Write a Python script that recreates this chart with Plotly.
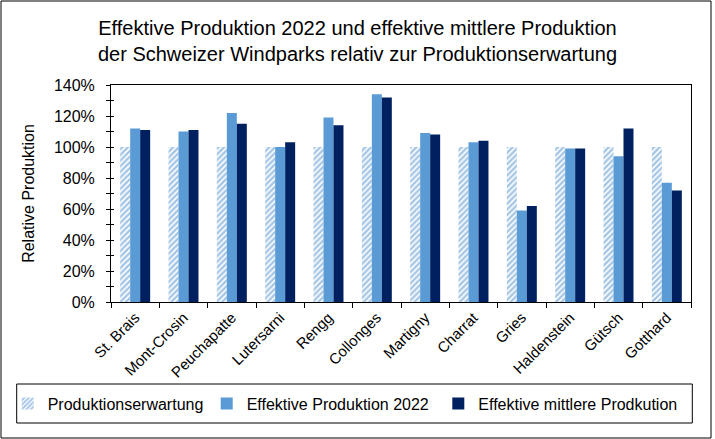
import plotly.graph_objects as go

parks = ["St. Brais", "Mont-Crosin", "Peuchapatte", "Lutersarni", "Rengg", "Collonges",
         "Martigny", "Charrat", "Gries", "Haldenstein", "Gütsch", "Gotthard"]
erwartung = [100, 100, 100, 100, 100, 100, 100, 100, 100, 100, 100, 100]
prod_2022 = [112, 110, 122, 100, 119, 134, 109, 103, 59, 99, 94, 77]
prod_mittel = [111, 111, 115, 103, 114, 132, 108, 104, 62, 99, 112, 72]
y_ticks = [0, 20, 40, 60, 80, 100, 120, 140]
y_labels = ["0%", "20%", "40%", "60%", "80%", "100%", "120%", "140%"]

FONT = "Liberation Sans, Arial, sans-serif"
L, R, T, B = 111, 24, 85, 137
W, H = 715, 439
PW, PH = W - L - R, H - T - B

def px_x(p):
    return (p - L) / PW

def px_y(p):
    return (H - B - p) / PH

fig = go.Figure()
fig.add_trace(go.Bar(
    x=parks, y=erwartung, name="Produktionserwartung",
    marker=dict(color="white", line=dict(width=0),
                pattern=dict(shape="/", fgcolor="#4A8CCB", bgcolor="white", size=4, solidity=0.6)),
    legend="legend"))
fig.add_trace(go.Bar(
    x=parks, y=prod_2022, name="Effektive Produktion 2022",
    marker=dict(color="#5B9BD5", line=dict(width=0)), legend="legend2"))
fig.add_trace(go.Bar(
    x=parks, y=prod_mittel, name="Effektive mittlere Prodkution",
    marker=dict(color="#002060", line=dict(width=0)), legend="legend3"))
# invisible helper trace for the inner-tick overlay axis
fig.add_trace(go.Scatter(x=[parks[0]], y=[0], yaxis="y2", mode="markers",
                         marker=dict(opacity=0), showlegend=False, hoverinfo="skip"))

legend_common = dict(orientation="h", bgcolor="rgba(0,0,0,0)", borderwidth=0,
                     font=dict(family=FONT, size=16, color="black"),
                     yanchor="middle", xanchor="left", y=px_y(403.5))

fig.update_layout(
    width=W, height=H,
    margin=dict(l=L, r=R, t=T, b=B, autoexpand=False),
    paper_bgcolor="white", plot_bgcolor="white",
    font=dict(family=FONT, color="black"),
    barmode="group", bargap=0.38, bargroupgap=0,
    title=dict(text="Effektive Produktion 2022 und effektive mittlere Produktion<br>"
                    "der Schweizer Windparks relativ zur Produktionserwartung",
               x=0.5, xref="container", xanchor="center",
               y=1 - 35 / H, yref="container", yanchor="middle",
               font=dict(family=FONT, size=20, color="black")),
    xaxis=dict(range=[-0.5, len(parks) - 0.5],
               showline=True, linecolor="black", linewidth=1, mirror=True,
               ticks="outside", ticklen=5, tickcolor="black", tickson="boundaries",
               tickangle=-45, tickfont=dict(family=FONT, size=15, color="black"),
               showgrid=False, zeroline=False),
    yaxis=dict(range=[0, 140], tickmode="array", tickvals=y_ticks, ticktext=y_labels,
               showline=True, linecolor="black", linewidth=1, mirror=True,
               ticks="outside", ticklen=4, tickcolor="black",
               minor=dict(dtick=10, ticks="outside", ticklen=4, tickcolor="black"),
               tickfont=dict(family=FONT, size=16, color="black"),
               ticklabelstandoff=8,
               title=dict(text="Relative Produktion", standoff=15,
                          font=dict(family=FONT, size=16, color="black")),
               showgrid=False, zeroline=False),
    yaxis2=dict(range=[0, 140], overlaying="y", side="left", anchor="x",
                tickvals=y_ticks, showticklabels=False,
                ticks="inside", ticklen=3, tickcolor="black",
                minor=dict(dtick=10, ticks="inside", ticklen=3, tickcolor="black"),
                showgrid=False, zeroline=False, showline=False),
    legend=dict(legend_common, x=px_x(7.7)),
    legend2=dict(legend_common, x=px_x(206.7)),
    legend3=dict(legend_common, x=px_x(438.3)),
    shapes=[
        dict(type="rect", xref="paper", yref="paper",
             x0=px_x(16.7), x1=px_x(692.3), y0=px_y(423), y1=px_y(384),
             line=dict(color="black", width=1), fillcolor="rgba(0,0,0,0)"),
        dict(type="rect", xref="paper", yref="paper",
             x0=px_x(1), x1=px_x(711), y0=px_y(438), y1=px_y(1),
             line=dict(color="black", width=1), fillcolor="rgba(0,0,0,0)"),
    ],
)

fig.write_html("out.html")
